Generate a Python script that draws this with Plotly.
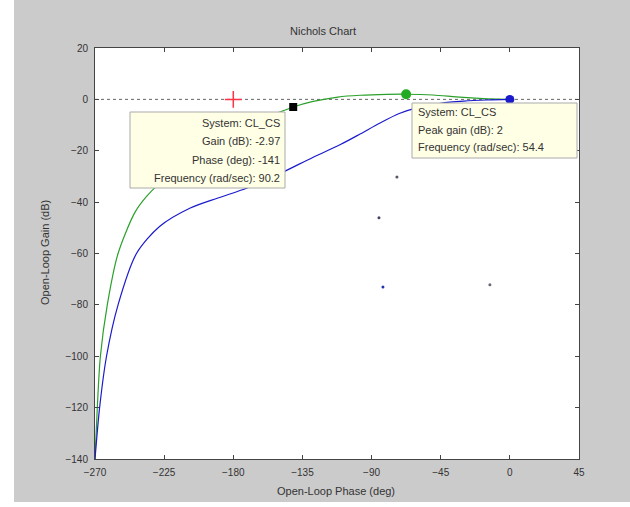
import plotly.graph_objects as go

# ---- data ----
x_ticks = [-270, -225, -180, -135, -90, -45, 0, 45]
y_ticks = [-140, -120, -100, -80, -60, -40, -20, 0, 20]

green_phase = [-270, -268.5, -266.5, -262, -255, -244, -236, -222, -205, -185, -168, -152, -141,
               -128, -112, -97.5, -80, -67.5, -50, -35, -20, -8, 0]
green_gain = [-140, -120, -100, -80, -60, -44, -37.5, -29.5, -22, -14.5, -9.5, -5.5, -2.97,
              -0.8, 0.9, 1.6, 1.95, 2.0, 1.7, 1.0, 0.4, 0.1, 0]

blue_phase = [-270, -267, -262.5, -255, -243, -228, -208, -190, -171, -150, -128, -110, -97.5,
              -84.5, -72, -60, -45, -30, -15, 0]
blue_gain = [-140, -120, -100, -80, -60, -49.5, -42.3, -38.4, -34.5, -29, -22.5, -17.5, -13.5,
             -9.2, -5.5, -3.2, -1.5, -0.7, -0.25, 0]

dots_phase = [-73.5, -85.2, -82.6, -13]
dots_gain = [-30.2, -46.1, -73, -72.2]
dots_color = ["#555566", "#444466", "#2233aa", "#666677"]

crit_phase, crit_gain = [-180], [0]
tip1_phase, tip1_gain = [-141], [-2.97]
peak_phase, peak_gain = [-67.5], [2]
dc_phase, dc_gain = [0], [0]

tip1_lines = ["System: CL_CS", "Gain (dB): -2.97", "Phase (deg): -141", "Frequency (rad/sec): 90.2"]
tip2_lines = ["System: CL_CS", "Peak gain (dB): 2", "Frequency (rad/sec): 54.4"]

# ---- layout geometry (pixels) ----
W, H = 630, 507
L, R, T, B = 95, 579, 48, 459
def px(x):
    return (x - L) / (R - L)
def py(y):
    return (B - y) / (B - T)

FONT = "Liberation Sans, Arial, sans-serif"
TXT = "#333333"

fig = go.Figure()

# 0 dB reference line
fig.add_trace(go.Scatter(x=[x_ticks[0], x_ticks[-1]], y=[0, 0], mode="lines",
                         line=dict(color="#666666", width=1, dash="dot"), hoverinfo="skip"))
fig.add_trace(go.Scatter(x=green_phase, y=green_gain, mode="lines",
                         line=dict(color="#2aa02a", width=1.2, shape="spline", smoothing=0.8),
                         hoverinfo="skip"))
fig.add_trace(go.Scatter(x=blue_phase, y=blue_gain, mode="lines",
                         line=dict(color="#1a1acc", width=1.2, shape="spline", smoothing=0.8),
                         hoverinfo="skip"))
fig.add_trace(go.Scatter(x=dots_phase, y=dots_gain, mode="markers",
                         marker=dict(color=dots_color, size=3), hoverinfo="skip"))
fig.add_trace(go.Scatter(x=crit_phase, y=crit_gain, mode="markers",
                         marker=dict(symbol="cross-thin", size=12, line=dict(color="#ff3344", width=1.5)),
                         hoverinfo="skip"))
fig.add_trace(go.Scatter(x=tip1_phase, y=tip1_gain, mode="markers",
                         marker=dict(symbol="square", size=8, color="#000000"), hoverinfo="skip"))
fig.add_trace(go.Scatter(x=peak_phase, y=peak_gain, mode="markers",
                         marker=dict(symbol="circle", size=10, color="#22aa22"), hoverinfo="skip"))
fig.add_trace(go.Scatter(x=dc_phase, y=dc_gain, mode="markers",
                         marker=dict(symbol="circle", size=9, color="#1a1acc"), hoverinfo="skip"))

shapes = [
    # white outer strips
    dict(type="rect", xref="paper", yref="paper", x0=px(0), x1=px(14), y0=py(H), y1=py(0),
         fillcolor="white", line=dict(width=0), layer="above"),
    dict(type="rect", xref="paper", yref="paper", x0=px(0), x1=px(W), y0=py(H), y1=py(502),
         fillcolor="white", line=dict(width=0), layer="above"),
    # datatip boxes
    dict(type="rect", xref="paper", yref="paper", x0=px(130), x1=px(285), y0=py(188), y1=py(112),
         fillcolor="#ffffe6", line=dict(color="#aaaaaa", width=1), layer="above"),
    dict(type="rect", xref="paper", yref="paper", x0=px(412), x1=px(577), y0=py(158), y1=py(103),
         fillcolor="#ffffe6", line=dict(color="#aaaaaa", width=1), layer="above"),
]

annotations = [
    dict(text="Nichols Chart", xref="paper", yref="paper", x=px(323), y=py(31),
         showarrow=False, font=dict(family=FONT, size=11, color=TXT), xanchor="center", yanchor="middle"),
    dict(text="Open-Loop Phase (deg)", xref="paper", yref="paper", x=px(336), y=py(491),
         showarrow=False, font=dict(family=FONT, size=11, color=TXT), xanchor="center", yanchor="middle"),
    dict(text="Open-Loop Gain (dB)", xref="paper", yref="paper", x=px(45), y=py(253), textangle=-90,
         showarrow=False, font=dict(family=FONT, size=11, color=TXT), xanchor="center", yanchor="middle"),
]
for i, t in enumerate(tip1_lines):
    annotations.append(dict(text=t, xref="paper", yref="paper", x=px(282), y=py(123 + 18.3 * i),
                            showarrow=False, xanchor="right", yanchor="middle",
                            font=dict(family=FONT, size=11, color=TXT)))
for i, t in enumerate(tip2_lines):
    annotations.append(dict(text=t, xref="paper", yref="paper", x=px(416), y=py(112 + 17.5 * i),
                            showarrow=False, xanchor="left", yanchor="middle",
                            font=dict(family=FONT, size=11, color=TXT)))

axis_common = dict(showgrid=False, zeroline=False, showline=True, linecolor="#444444", linewidth=1,
                   mirror="ticks", ticks="inside", ticklen=4, tickcolor="#444444",
                   tickfont=dict(family=FONT, size=10, color=TXT), ticklabelstandoff=4)

fig.update_layout(
    width=W, height=H,
    margin=dict(l=L, r=W - R, t=T, b=H - B, pad=0),
    paper_bgcolor="#cbcbcb", plot_bgcolor="white",
    showlegend=False,
    xaxis=dict(range=[x_ticks[0], x_ticks[-1]], tickvals=x_ticks, **axis_common),
    yaxis=dict(range=[y_ticks[0], y_ticks[-1]], tickvals=y_ticks, **axis_common),
    shapes=shapes, annotations=annotations,
)

fig.write_html("out.html")
